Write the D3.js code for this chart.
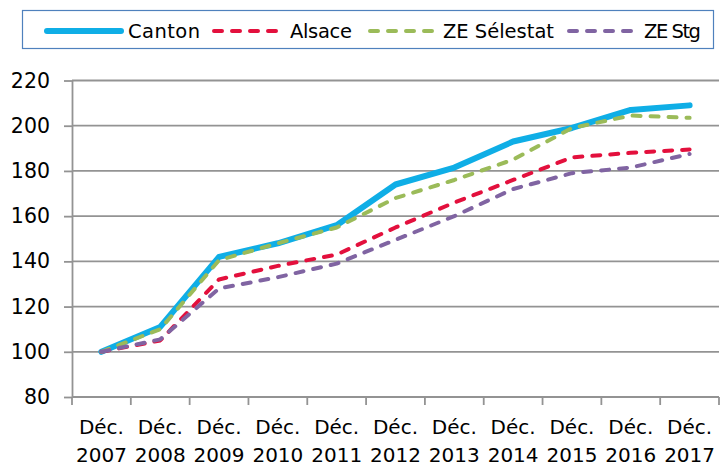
<!DOCTYPE html>
<html>
<head>
<meta charset="utf-8">
<script src="https://cdn.jsdelivr.net/npm/d3@7"></script>
<style>
  body { margin: 0; background: #fff; }
  text { font-family: "DejaVu Sans", sans-serif; fill: #000; }
</style>
</head>
<body>
<div id="chart-area"></div>
<script>
// years and series (indice base 100 en déc. 2007)
var years = ['2007', '2008', '2009', '2010', '2011', '2012', '2013', '2014', '2015', '2016', '2017'];
var canton = [100, 111, 142, 148, 156, 174, 181.5, 193, 199, 207, 209];
var alsace = [100, 105, 132, 138, 143, 155, 166, 176, 186, 188, 189.5];
var zeSelestat = [100, 110, 140.5, 148, 155, 168, 176, 185, 199, 204.5, 203.5];
var zeStg = [100, 105.5, 128, 133, 139, 149.5, 160, 172, 179, 181.5, 187.5];
var yTicks = [80, 100, 120, 140, 160, 180, 200, 220];

var series = [
    { name: 'Canton', values: canton, color: '#0faee6', width: 6, dash: null },
    { name: 'Alsace', values: alsace, color: '#e3103d', width: 4, dash: '8,10' },
    { name: 'ZE Sélestat', values: zeSelestat, color: '#9bbb59', width: 4, dash: '8,10' },
    { name: 'ZE Stg', values: zeStg, color: '#8064a2', width: 4, dash: '8,10' }
];

var W = 722, H = 468;
var plotLeft = 72, plotRight = 719, plotTop = 80.5, plotBottom = 397;

var svg = d3.select('#chart-area')
    .append('svg')
    .attr('width', W)
    .attr('height', H);

var x = d3.scaleBand()
    .domain(years)
    .range([plotLeft, plotRight]);

var y = d3.scaleLinear()
    .domain([80, 220])
    .range([plotBottom, plotTop]);

// gridlines
svg.append('g')
    .selectAll('line')
    .data(yTicks)
    .enter()
    .append('line')
    .attr('x1', plotLeft)
    .attr('x2', plotRight)
    .attr('y1', function (d) { return y(d); })
    .attr('y2', function (d) { return y(d); })
    .attr('stroke', '#939393')
    .attr('stroke-width', 1.8);

// y axis
var yAxis = d3.axisLeft(y)
    .tickValues(yTicks)
    .tickSize(8)
    .tickPadding(14)
    .tickSizeOuter(0);
var gy = svg.append('g')
    .attr('transform', 'translate(' + plotLeft + ',0)')
    .call(yAxis);
gy.select('.domain').attr('stroke', '#939393').attr('stroke-width', 1.8);
gy.selectAll('.tick line').attr('stroke', '#939393').attr('stroke-width', 1.8);
gy.selectAll('.tick text')
    .attr('font-size', 20.5)
    .attr('font-family', '"DejaVu Sans Condensed", "DejaVu Sans", sans-serif')
    .attr('fill', '#000');

// x axis: ticks on band boundaries
var bounds = years.map(function (d) { return x(d); }).concat([plotRight]);
svg.append('line')
    .attr('x1', plotLeft).attr('x2', plotRight)
    .attr('y1', plotBottom).attr('y2', plotBottom)
    .attr('stroke', '#939393').attr('stroke-width', 1.8);
svg.append('g')
    .selectAll('line')
    .data(bounds)
    .enter()
    .append('line')
    .attr('x1', function (d) { return d; })
    .attr('x2', function (d) { return d; })
    .attr('y1', plotBottom)
    .attr('y2', plotBottom + 8)
    .attr('stroke', '#939393')
    .attr('stroke-width', 1.8);

var labels = svg.append('g')
    .selectAll('text')
    .data(years)
    .enter()
    .append('text')
    .attr('text-anchor', 'middle')
    .attr('font-size', 20)
    .attr('font-family', '"DejaVu Sans Condensed", "DejaVu Sans", sans-serif')
    .attr('x', function (d) { return x(d) + x.bandwidth() / 2; });
labels.append('tspan')
    .attr('x', function (d) { return x(d) + x.bandwidth() / 2; })
    .attr('y', 434)
    .text('Déc.');
labels.append('tspan')
    .attr('x', function (d) { return x(d) + x.bandwidth() / 2; })
    .attr('y', 462)
    .text(function (d) { return d; });

// lines (Canton first, dashed series drawn over it)
var line = d3.line()
    .x(function (d, i) { return x(years[i]) + x.bandwidth() / 2; })
    .y(function (d) { return y(d); });

series.forEach(function (s) {
    svg.append('path')
        .datum(s.values)
        .attr('d', line)
        .attr('fill', 'none')
        .attr('stroke', s.color)
        .attr('stroke-width', s.width)
        .attr('stroke-linejoin', 'round')
        .attr('stroke-linecap', 'round')
        .attr('stroke-dasharray', s.dash);
});

// legend
svg.append('rect')
    .attr('x', 22.5).attr('y', 10.5)
    .attr('width', 691).attr('height', 38)
    .attr('fill', '#fff')
    .attr('stroke', '#4f81bd')
    .attr('stroke-width', 1.2);

var legendPos = [
    { lx: 47, lw: 74, tx: 128, tw: 72 },
    { lx: 214, lw: 67, tx: 290, tw: 62 },
    { lx: 370, lw: 66, tx: 443, tw: 111 },
    { lx: 569, lw: 67, tx: 644, tw: 57 }
];
series.forEach(function (s, i) {
    var p = legendPos[i];
    svg.append('line')
        .attr('x1', p.lx).attr('x2', p.lx + p.lw)
        .attr('y1', 31).attr('y2', 31)
        .attr('stroke', s.color)
        .attr('stroke-width', s.width)
        .attr('stroke-linecap', 'round')
        .attr('stroke-dasharray', s.dash);
    svg.append('text')
        .attr('x', p.tx)
        .attr('y', 38)
        .attr('font-size', 19.5)
        .attr('font-family', '"DejaVu Sans Condensed", "DejaVu Sans", sans-serif')
        .attr('textLength', p.tw)
        .attr('lengthAdjust', 'spacing')
        .text(s.name);
});
</script>
</body>
</html>
